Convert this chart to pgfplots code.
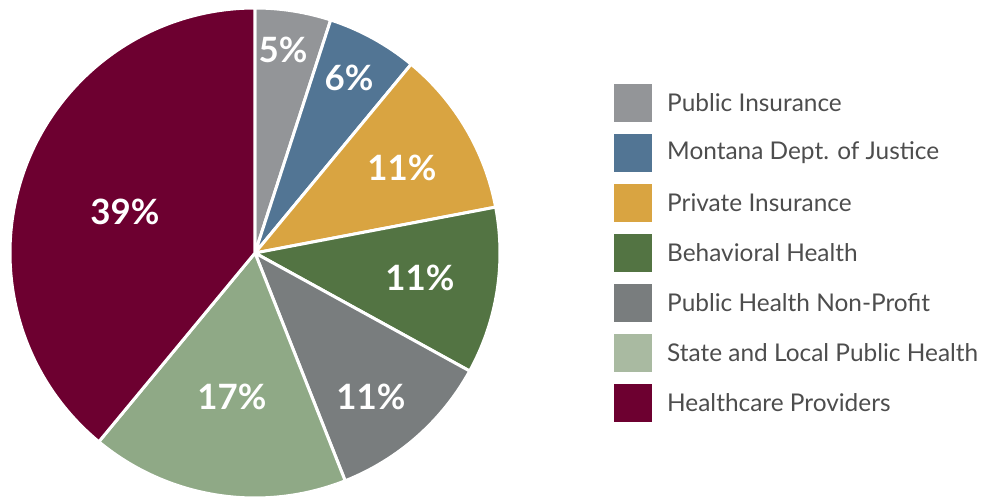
\documentclass[border=0pt]{standalone}
\usepackage{fontspec}
\setmainfont{Lato}
\usepackage{pgfplots}
\usepackage{pgfplotstable}
\pgfplotsset{compat=1.18}

\definecolor{cPubIns}{HTML}{939598}
\definecolor{cDOJ}{HTML}{527594}
\definecolor{cPriv}{HTML}{D9A441}
\definecolor{cBeh}{HTML}{537443}
\definecolor{cNP}{HTML}{797D7E}
\definecolor{cSLPH}{HTML}{8FA986}
\definecolor{cSLPHkey}{HTML}{A9BAA1}
\definecolor{cHCP}{HTML}{6D0030}
\definecolor{legtext}{HTML}{4D4D4D}

% share, slice colour, legend colour, label position (px, y up), name
\pgfplotstableread[col sep=comma]{
share,color,key,lx,ly,name
5,cPubIns,cPubIns,283,450,Public Insurance
6,cDOJ,cDOJ,349,422,Montana Dept. of Justice
11,cPriv,cPriv,402,332,Private Insurance
11,cBeh,cBeh,420,222,Behavioral Health
11,cNP,cNP,371,103,Public Health Non-Profit
17,cSLPH,cSLPHkey,232,103,State and Local Public Health
39,cHCP,cHCP,125,288,Healthcare Providers
}\piedata

\begin{document}
\begin{tikzpicture}
\useasboundingbox (0,0) rectangle (985bp,500bp);
\begin{axis}[
  at={(0,0)}, anchor=south west,
  x=1bp, y=1bp,
  xmin=0, xmax=985, ymin=0, ymax=500,
  hide axis, clip=false, scale only axis,
]
\pgfplotsextra{
  \xdef\cum{0}
  \pgfplotstablegetrowsof{\piedata}
  \pgfmathtruncatemacro\nrows{\pgfplotsretval-1}
  \foreach \i in {0,...,\nrows}{
    \pgfplotstablegetelem{\i}{share}\of\piedata \let\v\pgfplotsretval
    \pgfplotstablegetelem{\i}{color}\of\piedata \let\c\pgfplotsretval
    \pgfplotstablegetelem{\i}{key}\of\piedata \let\k\pgfplotsretval
    \pgfplotstablegetelem{\i}{lx}\of\piedata \let\lx\pgfplotsretval
    \pgfplotstablegetelem{\i}{ly}\of\piedata \let\ly\pgfplotsretval
    \pgfplotstablegetelem{\i}{name}\of\piedata \let\nm\pgfplotsretval
    \pgfmathsetmacro\a{90-3.6*\cum}
    \pgfmathsetmacro\b{90-3.6*(\cum+\v)}
    \fill[fill=\c, draw=white, line width=3bp, line join=round]
      (axis cs:255,247) -- ++(\a:245bp)
      arc[start angle=\a, end angle=\b, radius=245bp] -- cycle;
    \node[text=white, font=\fontsize{35}{35}\selectfont\bfseries]
      at (axis cs:\lx,\ly) {\v\%};
    % legend entry
    \pgfmathsetmacro\ry{397-50*\i}
    \fill[fill=\k] (axis cs:614,\ry-19) rectangle (axis cs:652,\ry+19);
    \node[anchor=west, inner sep=0pt, text=legtext,
          font=\fontsize{24.5}{24.5}\selectfont]
      at (axis cs:667,\ry) {\nm};
    \pgfmathsetmacro\n{\cum+\v}\xdef\cum{\n}
  }
}
\end{axis}
\end{tikzpicture}
\end{document}
